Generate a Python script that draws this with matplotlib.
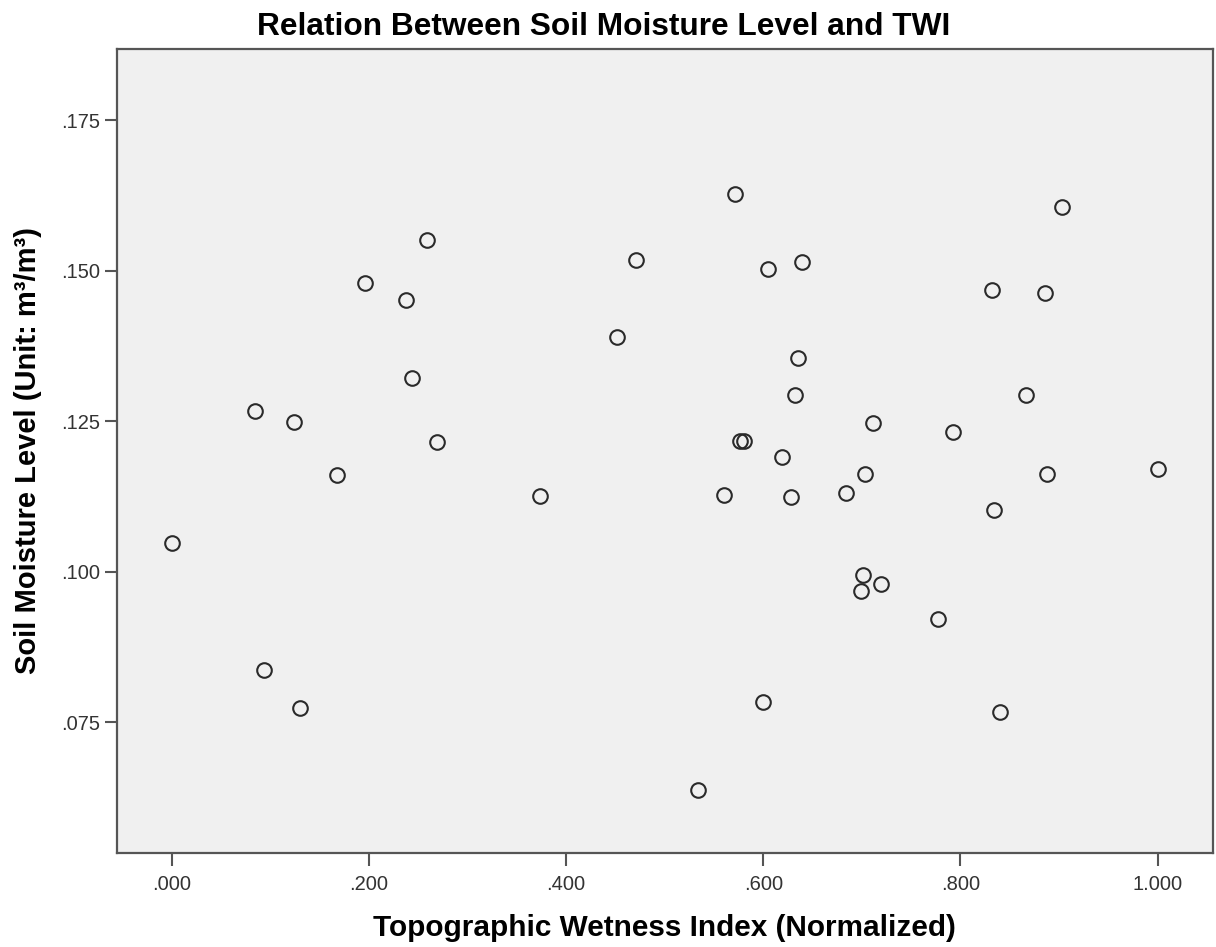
import matplotlib
matplotlib.use("Agg")
import matplotlib.pyplot as plt
from matplotlib.ticker import FixedLocator, FuncFormatter

# ─── Datos ──────────────────────────────────────────────────────────────────
twi = [0.000, 0.084, 0.094, 0.124, 0.130, 0.168, 0.196, 0.238, 0.244, 0.259,
       0.269, 0.374, 0.452, 0.471, 0.534, 0.560, 0.571, 0.576, 0.580, 0.600,
       0.605, 0.619, 0.628, 0.632, 0.635, 0.639, 0.684, 0.699, 0.701, 0.703,
       0.711, 0.719, 0.777, 0.792, 0.832, 0.834, 0.840, 0.866, 0.886, 0.888,
       0.903, 1.000]
humedad = [0.1047, 0.1267, 0.0836, 0.1248, 0.0774, 0.1161, 0.1479, 0.1451, 0.1322, 0.1551,
           0.1215, 0.1125, 0.1389, 0.1517, 0.0637, 0.1127, 0.1627, 0.1217, 0.1217, 0.0783,
           0.1502, 0.1190, 0.1123, 0.1293, 0.1354, 0.1514, 0.1131, 0.0968, 0.0995, 0.1162,
           0.1247, 0.0979, 0.0921, 0.1231, 0.1468, 0.1102, 0.0766, 0.1293, 0.1462, 0.1162,
           0.1606, 0.1170]

x_ticks = [0.0, 0.2, 0.4, 0.6, 0.8, 1.0]
y_ticks = [0.075, 0.100, 0.125, 0.150, 0.175]

TITULO = "Relation Between Soil Moisture Level and TWI"
X_LABEL = "Topographic Wetness Index (Normalized)"
Y_LABEL = "Soil Moisture Level (Unit: m\u00b3/m\u00b3)"

# ─── Estilo ─────────────────────────────────────────────────────────────────
plt.rcParams["font.family"] = ["Liberation Sans", "DejaVu Sans"]
C_FONDO = "#F0F0F0"
C_MARCO = "#555555"
C_TEXTO = "#333333"

fig = plt.figure(figsize=(12.16, 9.47), dpi=100, facecolor="white")
ax = fig.add_axes([0.0962, 0.0996, 0.9011, 0.8487])
ax.set_facecolor(C_FONDO)

ax.plot(twi, humedad, linestyle="none", marker="o", markersize=10.5,
        markerfacecolor="none", markeredgecolor="#2a2a2a", markeredgewidth=1.5)

ax.set_xlim(-0.0555, 1.0558)
ax.set_ylim(0.0533, 0.1868)

ax.xaxis.set_major_locator(FixedLocator(x_ticks))
ax.yaxis.set_major_locator(FixedLocator(y_ticks))

def fmt_spss(v, pos):
    s = f"{v:.3f}"
    return s[1:] if s.startswith("0") else s

ax.xaxis.set_major_formatter(FuncFormatter(fmt_spss))
ax.yaxis.set_major_formatter(FuncFormatter(fmt_spss))

for spine in ax.spines.values():
    spine.set_edgecolor(C_MARCO)
    spine.set_linewidth(1.6)

ax.tick_params(axis="both", direction="out", length=9, width=1.5,
               color=C_MARCO, labelcolor=C_TEXTO, labelsize=14.5)
ax.tick_params(axis="x", pad=7)
ax.tick_params(axis="y", pad=3)

ax.set_xlabel(X_LABEL, fontsize=21.4, fontweight="bold", color="black")
ax.set_ylabel(Y_LABEL, fontsize=21, fontweight="bold", color="black")
ax.xaxis.label.set_va("center")
ax.yaxis.label.set_va("center")
ax.xaxis.set_label_coords(0.5, -0.0937)
ax.yaxis.set_label_coords(-0.0812, 0.5)

fig.text(0.496, 0.9715, TITULO, ha="center", va="center",
         fontsize=22.8, fontweight="bold", color="black")

fig.savefig("out.png", dpi=100, facecolor="white")
